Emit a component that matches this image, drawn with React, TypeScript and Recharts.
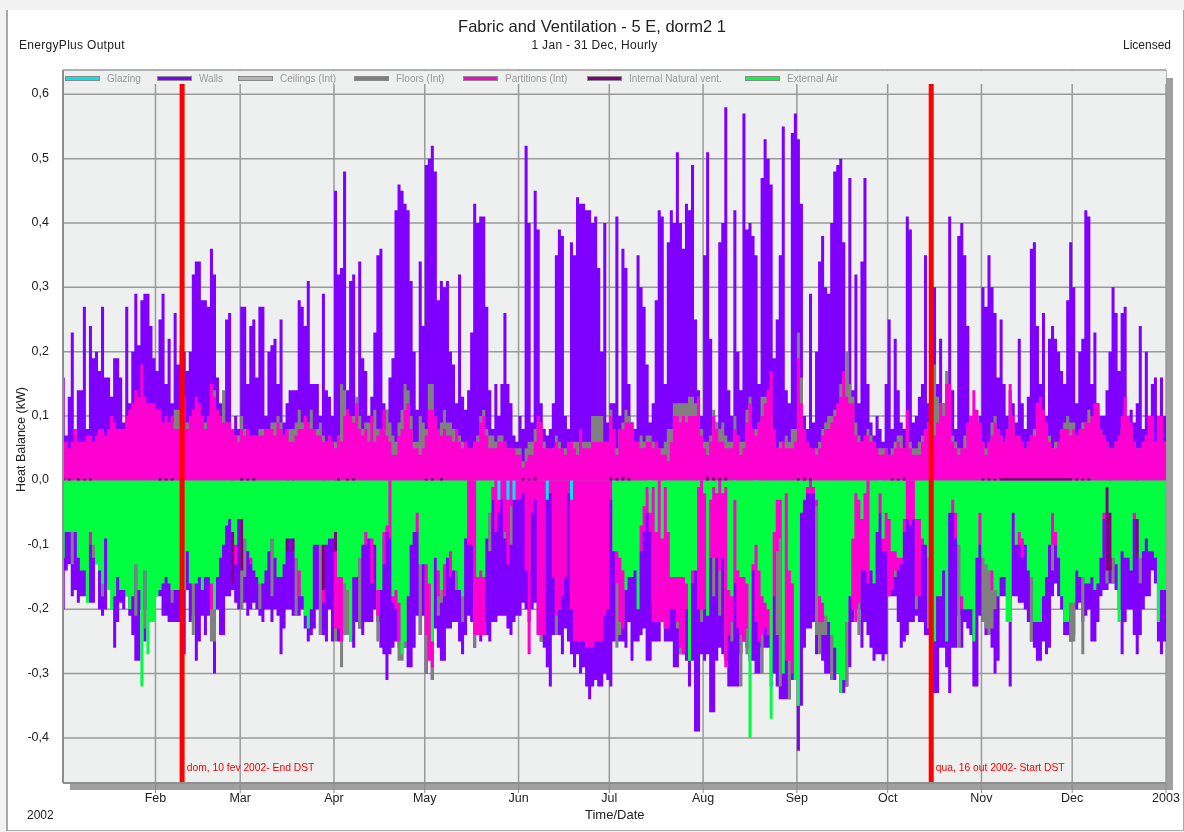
import React from 'react';
import { ComposedChart, Area, XAxis, YAxis, CartesianGrid, ReferenceLine, ReferenceDot, Legend } from 'recharts';

const monthNames = ['Feb','Mar','Apr','May','Jun','Jul','Aug','Sep','Oct','Nov','Dec','2003'];
const monthStarts = [0,31,59,90,120,151,181,212,243,273,304,334];
const monthTicks = [31,59,90,120,151,181,212,243,273,304,334,365];
const yTicks = [-0.4,-0.3,-0.2,-0.1,0,0.1,0.2,0.3,0.4,0.5,0.6];

// Values in hundredths of a kW, one row per month, one value per day.
const wallsGain = [
[16,7,13,23,7,14,14,27,8,24,19,20,17,27,16,16,13,19,19,16,9,27,12,20,29,21,28,29,29,24,19],
[17,25,29,15,22,12,26,18,21,20,17,20,32,34,34,28,28,27,36,32,16,12,9,25,26,8,10,8],
[27,27,15,24,25,16,27,27,10,20,21,22,15,25,9,12,14,14,14,28,27,24,31,15,15,15,10,29,14,13,10],
[45,32,33,48,14,31,32,10,34,19,17,10,13,23,35,36,12,11,16,19,42,46,45,43,42,31,20,11,34,24],
[49,50,52,48,28,31,30,31,20,18,12,32,13,11,14,23,43,40,41,41,27,14,8,15,10,15,26,15,12,7,6],
[10,8,52,40,9,45,39,12,8,7,8,12,35,39,38,10,8,37,35,44,43,43,42,42,40,41,33,20,40,9],
[12,12,41,10,36,33,15,9,8,35,30,27,18,9,12,28,42,41,15,37,42,40,51,40,36,43,42,49,25,14,10],
[35,51,22,10,9,37,40,58,14,10,42,20,14,57,39,40,38,35,15,47,53,50,46,19,25,35,55,14,12,54,57],
[53,43,10,8,29,9,20,34,38,30,29,40,48,49,50,37,13,47,14,32,12,34,47,15,9,7,10,8,6,15],
[25,8,22,14,9,8,41,39,9,10,13,15,35,12,38,30,15,22,12,13,41,14,8,38,40,35,24,10,9,8,10],
[30,27,35,30,26,16,25,15,10,14,12,9,22,12,8,13,36,37,24,15,26,10,22,24,22,20,17,15,28,37],
[30,12,20,22,42,41,15,23,12,10,10,14,20,30,26,17,26,27,10,11,9,12,24,8,20,9,15,16,10,16,10],
];
const partitionsGain = [
[6,6,5,6,8,6,6,6,7,7,6,7,8,8,7,8,10,9,8,8,8,10,11,12,14,13,18,13,12,12,12],
[11,11,9,10,9,10,8,8,11,13,8,10,11,13,12,10,8,10,15,13,11,10,9,9,9,8,7,6],
[8,7,8,7,7,7,7,7,8,8,8,7,9,8,7,8,6,6,7,8,8,10,9,8,8,7,7,6,6,7,6],
[5,7,6,10,11,10,9,12,8,7,8,6,10,6,7,8,11,7,6,4,4,7,8,11,12,8,5,5,4,5],
[7,11,11,10,8,7,8,7,7,6,8,6,5,6,5,5,6,6,9,10,7,5,5,5,6,6,6,5,5,5,4],
[4,2,3,4,4,6,10,9,5,5,5,5,6,5,5,4,6,6,5,4,8,5,5,5,6,6,6,6,6,6],
[10,8,4,8,8,9,9,9,6,6,5,5,6,6,5,6,5,4,4,3,6,10,10,9,10,9,10,10,10,13,7],
[5,4,6,10,8,6,6,5,5,5,8,7,4,5,9,12,8,7,9,10,12,14,17,8,5,5,6,5,5,5,6],
[19,12,8,6,5,5,4,5,7,8,8,9,10,12,13,17,13,12,12,7,6,6,7,7,6,6,5,4,4,5],
[4,4,5,6,5,5,11,5,4,4,4,6,8,9,5,7,9,12,10,15,15,6,5,4,5,5,9,10,14,11,9],
[6,4,6,7,9,8,7,6,8,15,10,7,7,6,5,6,7,7,12,13,11,9,6,5,5,6,8,8,8,7],
[8,7,8,8,9,9,10,12,12,8,7,6,5,5,6,7,10,13,10,9,6,5,5,6,7,10,10,6,10,10,6],
];
const floorsGain = [
[3,4,4,4,5,5,5,5,5,5,5,5,5,6,6,6,6,6,6,6,6,6,7,7,8,8,10,8,9,8,8],
[9,9,8,9,9,9,11,11,11,9,9,9,9,10,10,9,9,8,12,14,10,9,14,9,8,8,7,7],
[10,8,6,6,7,6,8,8,7,8,9,9,10,9,7,8,8,8,9,11,9,9,9,11,8,8,9,7,6,6,6],
[6,7,15,14,11,10,10,13,10,8,9,9,9,11,8,8,8,11,9,7,6,9,11,15,14,10,6,6,10,9],
[8,15,15,9,8,9,11,9,9,8,8,7,6,5,5,5,6,7,10,11,8,7,7,6,7,7,6,5,5,5,5],
[5,3,5,6,6,8,9,9,6,5,4,5,7,6,5,5,5,6,6,6,6,6,6,6,10,10,10,10,6,6],
[11,8,5,8,9,11,10,9,6,6,7,6,7,7,6,6,5,5,6,8,8,12,12,12,12,12,13,13,12,13,8],
[6,6,7,11,9,8,9,7,6,6,10,7,6,6,11,13,8,8,9,13,13,13,10,6,5,6,6,7,6,8,8],
[23,16,8,5,5,4,5,6,8,9,10,10,11,11,15,16,20,15,13,9,7,6,6,8,7,6,5,5,5,5],
[4,5,6,7,7,5,8,6,5,5,6,7,8,9,7,18,13,12,12,17,14,7,6,5,5,7,8,10,10,7,8],
[6,5,6,9,10,8,7,6,7,11,9,6,6,5,5,6,7,8,12,11,10,8,7,5,6,6,8,9,10,9],
[9,7,7,9,9,11,10,10,11,8,7,6,5,5,6,6,8,10,9,8,6,5,5,6,7,8,9,6,9,9,6],
];
const wallsLoss = [
[20,14,13,18,17,19,18,18,14,19,19,13,20,21,20,16,16,26,22,19,20,18,21,24,28,28,20,25,20,20,18],
[18,18,21,21,22,22,22,22,22,27,17,22,21,28,25,21,24,21,20,30,20,24,24,18,18,17,19,20],
[20,19,21,20,19,20,21,22,20,20,22,20,21,27,23,20,20,21,21,21,20,23,25,24,23,20,24,24,25,20,25],
[24,25,25,24,24,25,26,22,23,24,22,22,22,20,22,26,27,31,27,26,25,26,26,26,29,29,26,21,24,21],
[30,27,31,23,26,28,28,23,23,22,22,25,27,24,21,22,26,24,25,22,24,25,22,22,21,21,21,23,24,22,21],
[21,19,20,22,20,19,24,25,26,29,32,24,24,24,27,23,25,27,29,27,30,29,32,34,32,31,32,32,30,31],
[32,25,25,25,25,26,22,28,25,25,24,23,28,28,25,25,25,22,25,25,25,29,29,27,27,28,32,28,39,39,27],
[28,27,36,36,28,26,27,28,32,32,32,32,27,25,26,28,28,30,30,26,26,26,32,30,32,34,34,34,34,31,30],
[42,35,26,23,23,22,27,24,28,30,30,31,31,30,33,33,32,29,22,20,20,26,22,24,26,28,27,27,28,27],
[18,18,18,22,26,25,24,22,22,21,22,22,24,24,24,33,33,26,26,29,33,26,26,21,26,22,23,24,32,32,21],
[22,24,24,26,30,28,18,18,18,32,18,18,19,19,20,22,25,26,28,28,25,27,26,18,16,18,20,24,24,25],
[24,20,19,22,21,20,25,25,22,18,17,17,16,16,17,20,27,22,20,20,24,27,24,20,18,18,14,16,25,27,25],
];
const floorsLoss = [
[0,0,0,13,0,0,0,12,0,0,12,0,0,18,0,0,0,0,0,0,0,0,0,0,21,0,0,23,0,0,0],
[0,0,0,0,0,19,0,0,0,0,0,0,24,0,0,0,0,0,25,25,0,0,0,0,0,0,0,0],
[20,15,0,0,0,0,20,0,0,0,18,0,0,0,0,0,0,0,21,0,0,0,0,0,0,0,24,0,0,0,0],
[25,0,29,24,24,24,0,0,23,0,0,0,0,0,25,0,0,0,0,0,0,28,28,26,0,0,0,0,24,0],
[30,0,31,0,21,19,0,0,0,0,17,0,22,0,0,0,26,0,0,0,0,11,0,0,0,0,9,0,10,0,0],
[0,0,0,14,0,0,0,25,0,0,0,0,24,0,0,0,0,0,20,0,0,0,0,0,0,0,0,15,0,0],
[0,0,26,24,22,0,0,0,0,0,0,0,0,0,19,0,0,0,23,0,0,0,23,27,27,0,0,0,0,0,22],
[0,0,0,18,0,21,0,28,0,25,0,0,32,0,27,0,0,0,0,30,0,0,0,0,24,32,0,0,34,0,0],
[0,0,0,0,0,0,24,27,24,24,0,31,0,26,0,0,32,0,0,0,24,0,0,0,0,0,0,0,0,0],
[18,0,15,0,0,0,0,0,0,20,0,0,0,23,0,0,0,0,0,0,0,0,0,26,0,0,0,0,0,0,0],
[22,23,24,23,20,0,0,0,0,0,0,0,0,0,0,0,25,0,0,0,0,0,0,14,0,0,0,0,0,25],
[25,0,0,27,0,0,0,0,0,0,0,16,0,16,0,0,0,0,0,0,0,0,16,0,0,0,0,0,0,0,8],
];
const partitionsLoss = [
[3,3,3,3,3,3,3,3,3,10,5,3,3,3,3,3,3,3,3,3,3,3,3,3,3,3,3,3,3,3,3],
[3,3,3,3,3,3,3,3,3,3,3,3,3,3,3,3,3,3,20,3,3,3,3,3,3,3,13,3],
[3,3,3,13,3,3,3,3,3,3,3,12,3,3,3,3,3,3,3,18,17,3,3,3,3,3,3,19,3,3,3],
[23,23,25,8,17,8,8,15,8,8,10,8,16,8,21,9,13,8,9,19,20,25,25,22,8,8,8,8,10,8],
[24,28,29,8,18,8,18,8,15,8,8,8,8,8,10,10,24,24,24,24,5,5,3,8,5,3,8,13,4,3,3],
[3,2,14,27,5,3,24,24,24,2,2,15,21,20,18,15,2,20,25,25,25,25,26,26,26,25,25,25,21,20],
[3,11,16,22,23,17,10,10,10,11,11,8,5,8,22,22,22,22,23,23,20,20,22,26,27,20,14,16,14,20,20],
[20,20,12,12,12,14,12,29,24,22,16,23,24,25,23,23,14,22,25,24,23,24,25,18,11,9,25,28,28,30,10],
[11,4,3,2,2,2,4,22,22,12,10,10,10,9,9,8,10,8,20,22,19,14,14,16,10,10,6,5,11,11],
[18,17,14,14,13,8,6,7,6,18,18,10,9,12,10,5,5,5,5,5,5,5,9,9,20,20,10,10,10,10,10],
[10,12,14,17,12,10,15,10,8,8,5,9,10,12,8,8,14,8,8,8,8,4,5,10,10,8,14,8,8,8],
[6,6,6,6,6,6,6,6,6,6,6,6,6,6,6,6,6,6,6,6,6,6,6,6,6,6,6,6,6,6,6],
];
const externalAirLoss = [
[12,8,8,8,8,12,14,14,19,8,10,13,14,16,9,17,20,18,15,17,17,18,20,18,13,17,32,14,27,22,22],
[18,17,16,15,16,17,17,17,17,17,11,16,16,16,15,17,15,15,16,20,15,12,10,7,6,8,10,6],
[6,9,11,12,14,15,16,16,14,11,9,12,15,15,13,9,9,9,12,14,18,21,23,20,10,10,10,10,10,9,9],
[8,15,15,16,17,25,15,15,12,10,8,9,9,10,17,17,8,7,0,18,17,19,27,25,18,10,8,5,13,13],
[13,16,25,12,14,17,13,12,11,14,14,17,18,9,0,0,0,15,14,15,9,5,1,0,0,0,0,0,0,0,0],
[0,0,0,0,0,0,0,0,0,0,0,0,0,0,0,0,0,0,0,0,0,0,0,0,0,0,0,0,0,0],
[0,11,11,12,14,17,15,15,14,20,7,4,1,5,1,8,0,9,1,8,15,15,15,15,15,16,28,14,14,1,0],
[2,21,3,1,2,0,2,1,17,18,3,14,15,15,16,40,13,10,14,18,19,20,37,8,3,3,30,2,14,16,31],
[35,5,3,1,0,1,3,18,19,21,22,24,26,30,33,31,22,18,9,2,3,6,2,0,14,16,8,2,9,5],
[6,11,11,12,12,6,0,0,0,6,6,9,10,12,14,25,18,18,14,25,5,3,5,10,18,20,20,20,25,12,5],
[12,13,14,14,17,18,15,15,22,22,5,10,8,9,10,14,15,22,22,22,18,15,10,5,8,12,18,22,22,19],
[19,14,15,15,16,16,15,17,16,12,5,1,5,12,13,22,11,12,12,14,5,6,12,11,9,11,11,12,22,17,17],
];
const glazingLoss = [[0],[0],[0],[0],
[0,0,0,0,0,0,0,0,0,0,0,0,0,0,0,0,0,0,0,0,0,0,0,0,3,0,0,3,0,3,0],
[0,0,0,0,0,0,0,0,0,3,0,0,0,0,0,0,0,3,0],
[0,3,0,0,0,0,0,0,0,0,0,0,0,2,0],
[0,0,0,0,0,0,0,0,0,0,3,0,0,0,0,0,0,2,0],
[0,0,0,0,0,0,0,0,0,0,0,0,0,0,0,0,0,0,0,0,0,0,0,0,0,0,0,2,0],
[0],[0],[0]];
const ceilingsGain = [[2,2,3],[3,3,2],[3,2,3],[3,3,4],[3,4,3],[3,2,3],[4,3,4],[4,3,3],[3,4,3],[3,3,4],[3,3,3],[3,2,3]];
const ventGain = [[0.4,0,0.3,0,0,0.4,0,0.3,0,0.4,0,0],[0,0.4,0,0.3,0,0.4,0,0,0.3,0],[0.4,0,0.3,0,0.4,0,0],[0,0.4,0,0,0.3,0,0.4,0],[0.3,0,0.4,0,0,0.4,0],[0,0.4,0,0.3,0,0.5,0],[0.5,0,0.4,0,0.6,0,0.4,0],[0,0.6,0,0.5,0,0.4,0,0.5,0],[0.4,0,0.5,0,0.4,0],[0,0.4,0,0.3,0,0.5,0],[0.4,0,0.4,0,0.3,0,0.4],[0,0.4,0,0.3,0,0.4,0]];
const ventLoss = [
[0],
[0,0,0,0,0,0,0,0,0,0,0,0,0,0,0,0,0,0,0,0,0,0,0,0,0,16,0,0],
[14,0,0,0,0,0,0,0,0,0,0,0,0,0,0,11,0,11,0,0,0,0,0,0,0,0,0,17,0,0,0],
[11,0],[0],[0],[0],[0],[0],[0],[0],
[0,0,0,0,0,0,0,0,0,0,0,14,14,0,0,0,0,0,0,0,0,12,0],
];

const legendNames = ['Glazing','Walls','Ceilings (Int)','Floors (Int)','Partitions (Int)','Internal Natural vent.','External Air'];
const legendSwatchLeft = [65,157,238,354,463,587,745];

function table() {
  const series: Record<string, number[][]> = { wallsGain, partitionsGain, floorsGain, wallsLoss, floorsLoss, partitionsLoss, externalAirLoss, glazingLoss, ceilingsGain, ventGain, ventLoss };
  const rows: any[] = [];
  for (let m = 0; m < 12; m++) {
    const end = m < 11 ? monthStarts[m + 1] : 365;
    for (let d = monthStarts[m]; d < end; d++) {
      const row: any = { day: d };
      for (const k of Object.keys(series)) {
        const list = series[k][m];
        const v = list[d - monthStarts[m]] ?? list[list.length - 1];
        row[k] = (k.endsWith('Loss') ? -v : v) / 100;
      }
      rows.push(row);
    }
  }
  rows.push({ ...rows[rows.length - 1], day: 365 });
  return rows;
}
const rows = table();

const font = '"Liberation Sans", Arial, sans-serif';
const label = (s: any) => ({ position: 'absolute' as const, fontFamily: font, color: '#222', fontSize: 12, lineHeight: '12px', whiteSpace: 'nowrap' as const, ...s });

function LegendBar({ payload }: any) {
  const items = (payload || []).filter((p: any) => legendNames.includes(p.value));
  return (
    <div style={{ position: 'relative', width: 1102, height: 13, background: '#eeefef' }}>
      {items.map((p: any) => (
        <div key={p.value} style={{ position: 'absolute', left: legendSwatchLeft[legendNames.indexOf(p.value)] - 64, top: 1, height: 12, display: 'flex', alignItems: 'center' }}>
          <span style={{ display: 'inline-block', width: 33, height: 3, background: p.color, border: '1px solid #8a8a8a' }} />
          <span style={{ marginLeft: 7, fontFamily: font, fontSize: 10, color: '#9a9a9a' }}>{p.value}</span>
        </div>
      ))}
    </div>
  );
}

const areas = [
  { key: 'wallsGain', name: 'Walls', color: '#7f00ff' },
  { key: 'wallsLoss', color: '#7f00ff' },
  { key: 'ceilingsGain', name: 'Ceilings (Int)', color: '#b4b4b4' },
  { key: 'floorsGain', name: 'Floors (Int)', color: '#808080' },
  { key: 'floorsLoss', color: '#808080' },
  { key: 'partitionsGain', name: 'Partitions (Int)', color: '#ff00d0' },
  { key: 'partitionsLoss', color: '#ff00d0' },
  { key: 'glazingLoss', name: 'Glazing', color: '#00e5ee' },
  { key: 'ventLoss', name: 'Internal Natural vent.', color: '#800080' },
  { key: 'externalAirLoss', name: 'External Air', color: '#00ff40' },
  { key: 'ventGain', color: '#800080' },
];

export default function App() {
  return (
    <div style={{ position: 'absolute', left: 0, top: 0, width: 1184, height: 832, background: '#f2f2f2', overflow: 'hidden', filter: 'blur(0.35px)' }}>
      <div style={{ position: 'absolute', left: 6, top: 10, width: 1175, height: 820, background: '#fff', borderLeft: '2px solid #a8a8a8', borderRight: '2px solid #a8a8a8', borderBottom: '1px solid #a8a8a8' }} />
      <div style={{ position: 'absolute', left: 70, top: 78, width: 1103, height: 712, background: '#a0a0a0' }} />
      <div style={label({ left: 0, width: 1184, top: 16, textAlign: 'center', fontSize: 16.5, lineHeight: '20px' })}>Fabric and Ventilation - 5 E, dorm2 1</div>
      <div style={label({ left: 19, top: 39, letterSpacing: 0.3 })}>EnergyPlus Output</div>
      <div style={label({ left: 0, width: 1189, top: 39, textAlign: 'center', letterSpacing: 0.3 })}>1 Jan - 31 Dec, Hourly</div>
      <div style={label({ right: 13, top: 39 })}>Licensed</div>
      <div style={label({ left: 27, top: 809 })}>2002</div>
      <div style={label({ left: 585, top: 809, fontSize: 13 })}>Time/Date</div>
      <div style={label({ left: -31, top: 434, width: 104, textAlign: 'center', transform: 'rotate(-90deg)', fontSize: 12.5 })}>Heat Balance (kW)</div>
      <div style={{ position: 'absolute', left: 0, top: 0 }}>
        <ComposedChart width={1184} height={832} data={rows} margin={{ top: 70, left: 0, right: 18, bottom: 0 }}>
          <CartesianGrid fill="#eeefef" stroke="#9a9a9a" strokeWidth={1.5} strokeDasharray="" />
          <XAxis dataKey="day" type="number" domain={[0.43, 365]} ticks={monthTicks} interval={0} allowDataOverflow
            tickFormatter={(v: number) => monthNames[monthTicks.indexOf(v)]}
            tick={{ fontFamily: font, fontSize: 12.5, fill: '#222' }} tickLine={{ stroke: '#8a8a8a' }} tickSize={10} tickMargin={0}
            axisLine={{ stroke: '#8f8f8f', strokeWidth: 2 }} height={50 - 14} />
          <YAxis type="number" domain={[-0.47, 0.6377]} ticks={yTicks} interval={0} allowDataOverflow width={63}
            tickFormatter={(v: number) => v.toFixed(1).replace('.', ',')}
            tick={{ fontFamily: font, fontSize: 12.5, fill: '#222', dy: -1.5 }} tickLine={false} tickMargin={8}
            axisLine={{ stroke: '#8f8f8f', strokeWidth: 2 }} />
          {areas.map((a) => (
            <Area key={a.key} dataKey={a.key} name={a.name ?? a.key} type="stepAfter" fill={a.color} fillOpacity={1} stroke="none"
              isAnimationActive={false} dot={false} activeDot={false} legendType={a.name ? 'line' : 'none'} />
          ))}
          <ReferenceLine segment={[{ x: 39.8, y: -0.47 }, { x: 39.8, y: 0.617 }]} stroke="#ff0000" strokeWidth={5} />
          <ReferenceLine segment={[{ x: 287.4, y: -0.47 }, { x: 287.4, y: 0.617 }]} stroke="#ff0000" strokeWidth={5} />
          <ReferenceDot x={41} y={-0.446} r={0} stroke="none" label={{ value: 'dom, 10 fev 2002- End DST', position: 'right', fill: '#ff0000', fontSize: 10.3, fontFamily: font, offset: 1 }} />
          <ReferenceDot x={288.6} y={-0.446} r={0} stroke="none" label={{ value: 'qua, 16 out 2002- Start DST', position: 'right', fill: '#ff0000', fontSize: 10.3, fontFamily: font, offset: 1 }} />
          <Legend content={<LegendBar />} wrapperStyle={{ left: 64, top: 71, width: 1102, height: 13 }} />
        </ComposedChart>
      </div>
    </div>
  );
}
